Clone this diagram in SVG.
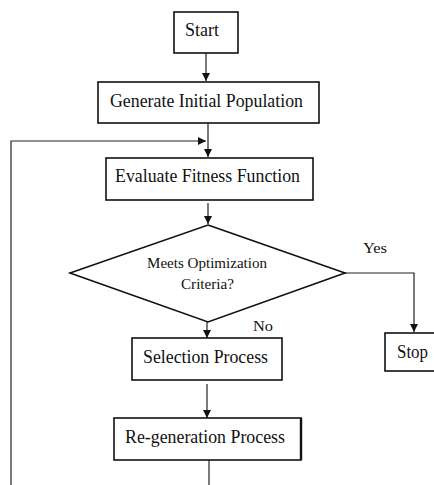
<svg xmlns="http://www.w3.org/2000/svg" width="434" height="485" viewBox="0 0 434 485">
<defs>
<marker id="ah" viewBox="0 0 8 8" refX="8" refY="4" markerWidth="8" markerHeight="8" markerUnits="userSpaceOnUse" orient="auto">
<path d="M0,0 L8,4 L0,8 Z" fill="#111"/>
</marker>
</defs>
<style>
.box{fill:#fff;stroke:#111;stroke-width:1.6}
.ln{fill:none;stroke:#222;stroke-width:1.2}
.t{font-family:"Liberation Serif","Times New Roman",serif;fill:#111;font-size:18.5px}
.s{font-family:"Liberation Serif","Times New Roman",serif;fill:#111;font-size:15px}
</style>
<rect width="434" height="485" fill="#fff"/>
<g id="connectors">
<line class="ln" x1="206" y1="53" x2="206" y2="81" marker-end="url(#ah)"/>
<line class="ln" x1="208" y1="123" x2="208" y2="157" marker-end="url(#ah)"/>
<polyline class="ln" points="209,460 209,485"/>
<polyline class="ln" points="11,485 11,141 206,141" marker-end="url(#ah)"/>
<line class="ln" x1="208" y1="203" x2="208" y2="224" marker-end="url(#ah)"/>
<polyline class="ln" points="345,273 414,273 414,332" marker-end="url(#ah)"/>
<line class="ln" x1="207" y1="322" x2="207" y2="338" marker-end="url(#ah)"/>
<line class="ln" x1="207" y1="384" x2="207" y2="418" marker-end="url(#ah)"/>
<text class="s" x="363" y="253" textLength="24" lengthAdjust="spacingAndGlyphs">Yes</text>
<text class="s" x="253" y="331" textLength="20" lengthAdjust="spacingAndGlyphs">No</text>
</g>
<g id="start">
<rect class="box" x="174" y="12" width="64" height="41"/>
<text class="t" x="185" y="36" textLength="34" lengthAdjust="spacingAndGlyphs">Start</text>
</g>
<g id="generate">
<rect class="box" x="98" y="82" width="221" height="41"/>
<text class="t" x="110" y="107" textLength="193" lengthAdjust="spacingAndGlyphs">Generate Initial Population</text>
</g>
<g id="evaluate">
<rect class="box" x="106" y="158" width="207" height="42"/>
<text class="t" x="115" y="182" textLength="185" lengthAdjust="spacingAndGlyphs">Evaluate Fitness Function</text>
</g>
<g id="decision">
<polygon class="box" points="208,225 345,273 208,322 70,273" stroke-width="1.3"/>
<text class="s" x="147" y="268" textLength="120" lengthAdjust="spacingAndGlyphs">Meets Optimization</text>
<text class="s" x="181" y="289" textLength="53" lengthAdjust="spacingAndGlyphs">Criteria?</text>
</g>
<g id="selection">
<rect class="box" x="132" y="338" width="150" height="42"/>
<text class="t" x="143" y="363" textLength="125" lengthAdjust="spacingAndGlyphs">Selection Process</text>
</g>
<g id="regeneration">
<rect class="box" x="114" y="418" width="187" height="42"/>
<line x1="301" y1="418" x2="301" y2="460" stroke="#111" stroke-width="2.4"/>
<text class="t" x="125" y="443" textLength="160" lengthAdjust="spacingAndGlyphs">Re-generation Process</text>
</g>
<g id="stop">
<rect class="box" x="385" y="333" width="60" height="38"/>
<text class="t" x="397" y="358" textLength="31" lengthAdjust="spacingAndGlyphs">Stop</text>
</g>
</svg>
